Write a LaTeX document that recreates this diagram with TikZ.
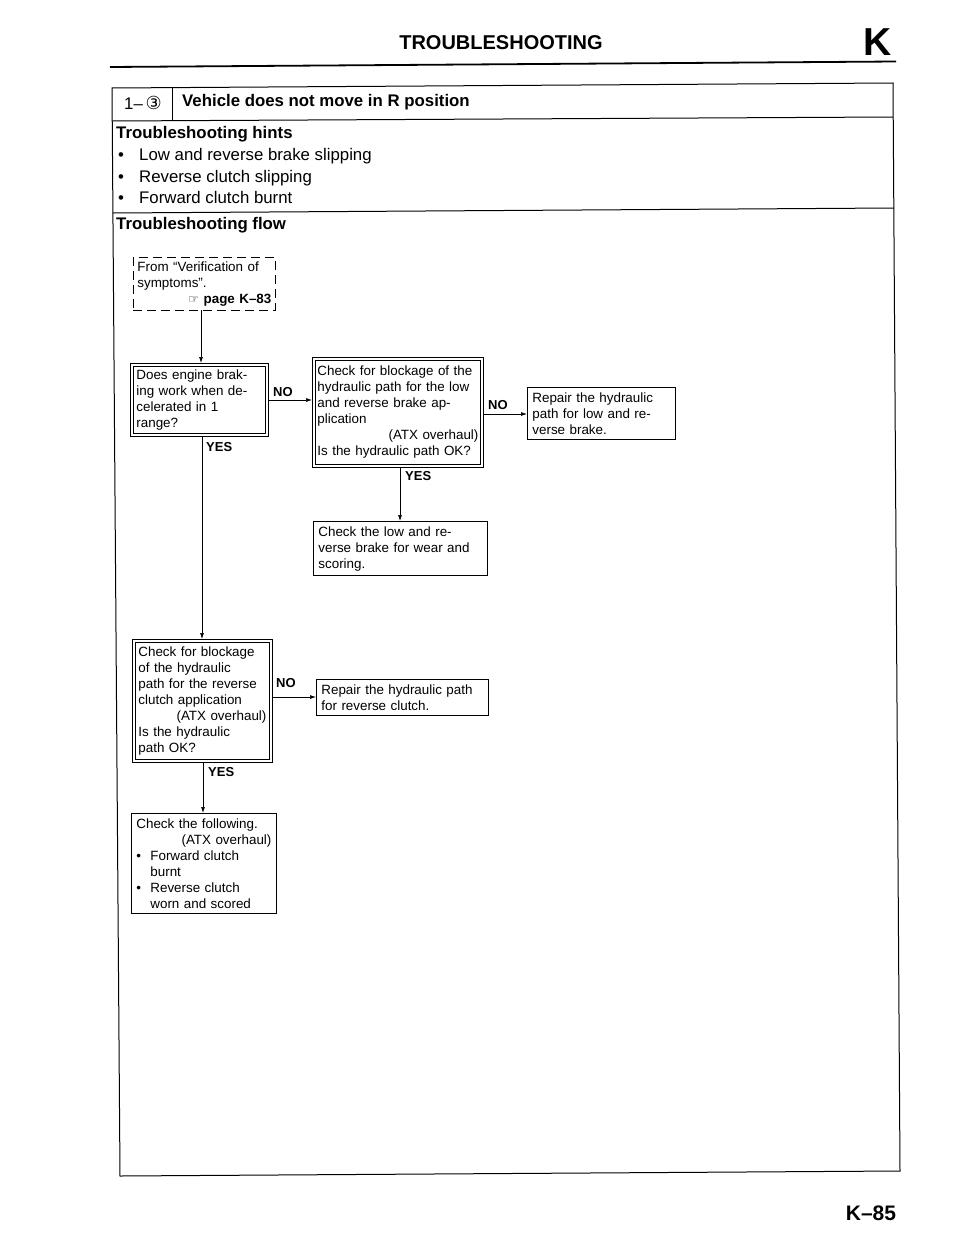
\documentclass[tikz,border=0pt]{standalone}
\usepackage{fontspec}
\setmainfont{Liberation Sans}
\newfontfamily\dejavu{DejaVu Sans}
\usetikzlibrary{arrows.meta}
\newcommand{\boxfont}{\fontsize{13.4}{16}\selectfont}
\newcommand{\lblfont}{\fontsize{13}{14}\selectfont\bfseries}
\newcommand{\hintfont}{\fontsize{16.8}{19}\selectfont}
\newcommand{\rline}[1]{\hspace*{\fill}#1}
\newcommand{\bul}{\makebox[21pt][l]{•}}
\newcommand{\sbul}{\makebox[14pt][l]{•}}
\begin{document}
\begin{tikzpicture}[x=1pt,y=-1pt,
  box/.style={draw, line width=0.8pt, inner sep=5pt, align=left, font=\boxfont, anchor=north west},
  dbox/.style={box, inner sep=6pt},
  inner/.style={line width=0.8pt},
  arr/.style={-{Latex[length=6pt,width=4pt]}, line width=0.7pt},
  lbl/.style={font=\lblfont, inner sep=0pt, anchor=west},
  frame/.style={line width=1pt},
  hint/.style={font=\hintfont, inner sep=0pt, anchor=base west},
  hhead/.style={font=\hintfont\bfseries, inner sep=0pt, anchor=base west}]
\useasboundingbox (0,0) rectangle (960,1242);
\fill[white] (0,0) rectangle (960,1242);
% page header
\node[font=\fontsize{20}{22}\selectfont\bfseries, inner sep=0pt] (title) at (501,43) {TROUBLESHOOTING};
\node[font=\fontsize{39}{40}\selectfont\bfseries, inner sep=0pt] (kletter) at (878,42) {K};
\draw[line width=1.8pt] (110,67) -- (896,61.5);
% frame (scan is slightly skewed)
\draw[frame] (112,88) -- (893,83) -- (900,1171) -- (120,1176) -- cycle;
\draw[frame] (172,87.6) -- (172,120.6);
\draw[frame] (112.2,121) -- (893.2,117);
\draw[frame] (112.9,213) -- (893.8,208);
\node[font=\hintfont, inner sep=0pt] (num) at (143,103) {1–\,{\dejavu\fontsize{18}{18}\selectfont ③}};
\node[hhead] (ttl) at (182,106) {Vehicle does not move in R position};
\node[hhead] (hints) at (116,138) {Troubleshooting hints};
\node[hint] (h1) at (118,160) {\bul Low and reverse brake slipping};
\node[hint] (h2) at (118,182) {\bul Reverse clutch slipping};
\node[hint] (h3) at (118,203) {\bul Forward clutch burnt};
\node[hhead] (flow) at (116,229) {Troubleshooting flow};
% flow boxes
\node[box, dashed, dash pattern=on 9pt off 5pt, inner sep=4pt, text width=134pt, minimum height=51pt] (start) at (133,257)
  {From “Verification of\\symptoms”.\\\rline{{\dejavu\fontsize{12}{12}\selectfont ☞} \textbf{page K–83}}};
\node[dbox, text width=126pt, minimum height=73pt] (b1) at (130,363)
  {Does engine brak-\\ing work when de-\\celerated in 1\\range?};
\draw[inner] ([shift={(3,3)}]b1.north west) rectangle ([shift={(-3,-3)}]b1.south east);
\node[dbox, inner sep=5pt, text width=161pt, minimum height=110pt] (b2) at (312,357)
  {Check for blockage of the\\hydraulic path for the low\\and reverse brake ap-\\plication\\\rline{(ATX overhaul)}\\Is the hydraulic path OK?};
\draw[inner] ([shift={(3,3)}]b2.north west) rectangle ([shift={(-3,-3)}]b2.south east);
\node[box, text width=138pt, minimum height=51pt] (b3) at (527,387)
  {Repair the hydraulic\\path for low and re-\\verse brake.};
\node[box, text width=164pt, minimum height=50pt] (b5) at (313,521)
  {Check the low and re-\\verse brake for wear and\\scoring.};
\node[dbox, text width=128pt, minimum height=123pt] (b4) at (132,639)
  {Check for blockage\\of the hydraulic\\path for the reverse\\clutch application\\\rline{(ATX overhaul)}\\Is the hydraulic\\path OK?};
\draw[inner] ([shift={(3,3)}]b4.north west) rectangle ([shift={(-3,-3)}]b4.south east);
\node[box, text width=162pt, minimum height=34pt] (b6) at (316,679)
  {Repair the hydraulic path\\for reverse clutch.};
\node[box, text width=135pt, minimum height=97pt] (b7) at (131,813)
  {Check the following.\\\rline{(ATX overhaul)}\\\sbul Forward clutch\\\hspace*{14pt}burnt\\\sbul Reverse clutch\\\hspace*{14pt}worn and scored};
% connectors
\draw[arr] (start.south -| 201,0) -- (b1.north -| 201,0);
\draw[arr] (b1.east |- 0,400) -- (b2.west |- 0,400);
\draw[arr] (b2.east |- 0,414) -- (b3.west |- 0,414);
\draw[arr] (b2.south -| 400,0) -- (b5.north -| 400,0);
\draw[arr] (b1.south -| 202,0) -- (b4.north -| 202,0);
\draw[arr] (b4.east |- 0,697) -- (b6.west |- 0,697);
\draw[arr] (b4.south -| 203,0) -- (b7.north -| 203,0);
% labels
\node[lbl] (no1) at (273,392) {NO};
\node[lbl] (no2) at (488,405) {NO};
\node[lbl] (no3) at (276,683) {NO};
\node[lbl] (yes1) at (206,447) {YES};
\node[lbl] (yes2) at (405,476) {YES};
\node[lbl] (yes3) at (208,772) {YES};
% page number
\node[font=\fontsize{21}{23}\selectfont\bfseries, inner sep=0pt] (pg) at (871,1213) {K–85};
\end{tikzpicture}
\end{document}
